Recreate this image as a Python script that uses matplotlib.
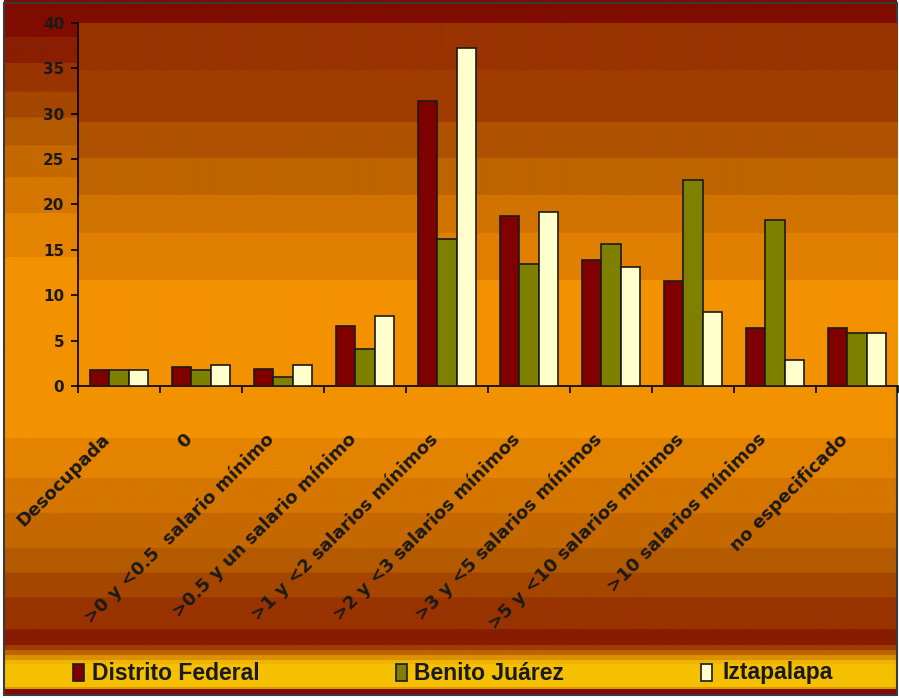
import numpy as np
import matplotlib
matplotlib.use('Agg')
import matplotlib.pyplot as plt
from matplotlib.patches import Rectangle
from matplotlib.transforms import blended_transform_factory

# datos
categorias = ['Desocupada', '0', '>0 y <0.5  salario mínimo', '>0.5 y un salario mínimo',
              '>1 y <2 salarios mínimos', '>2 y <3 salarios mínimos', '>3 y <5 salarios mínimos',
              '>5 y <10 salarios mínimos', '>10 salarios mínimos', 'no especificado']
distrito_federal = [1.8, 2.1, 1.9, 6.6, 31.4, 18.7, 13.9, 11.6, 6.4, 6.4]
benito_juarez = [1.8, 1.8, 1.0, 4.1, 16.2, 13.4, 15.6, 22.7, 18.3, 5.8]
iztapalapa = [1.8, 2.3, 2.3, 7.7, 37.3, 19.2, 13.1, 8.1, 2.9, 5.8]
series = ['Distrito Federal', 'Benito Juárez', 'Iztapalapa']
colores = ['#800000', '#808000', '#ffffcc']

W, H = 899, 698


def bandas(n, lista, y0=0):
    # columna de color por franjas (y en pixeles)
    col = np.zeros((n, 1, 3))
    for k, (ys, c) in enumerate(lista):
        ye = lista[k + 1][0] if k + 1 < len(lista) else y0 + n
        col[max(ys - y0, 0):max(ye - y0, 0), 0, :] = np.array(c) / 255
    return col


fondo = bandas(H, [(0, (128, 12, 0)), (37, (138, 30, 0)), (63, (153, 51, 0)), (92, (165, 70, 0)),
                   (118, (180, 90, 0)), (146, (198, 104, 0)), (178, (213, 118, 0)),
                   (214, (228, 131, 0)), (258, (243, 146, 0)), (440, (228, 131, 0)),
                   (480, (213, 118, 0)), (515, (198, 104, 0)), (550, (180, 90, 0)),
                   (575, (165, 70, 0)), (600, (153, 51, 0)), (632, (136, 28, 0)),
                   (648, (160, 60, 0)), (653, (190, 100, 0)), (658, (220, 145, 0)),
                   (663, (240, 180, 0)), (667, (245, 192, 0)), (690, (225, 150, 0)),
                   (692, (128, 12, 0))])

fig = plt.figure(figsize=(W / 100, H / 100), dpi=100)
fig.patch.set_facecolor('white')

bg = fig.add_axes([0, 0, 1, 1])
bg.set_xlim(0, W)
bg.set_ylim(H, 0)
bg.imshow(fondo, extent=[4, 897, 695, 0], aspect='auto', zorder=0)
bg.add_patch(Rectangle((4, 3), 893, 692, fill=False, edgecolor='#3a3a3a', lw=1.5, zorder=2))
bg.axis('off')

# leyenda
for xm, xt, nom, c in zip([73, 396, 701], [92, 414, 722], series, colores):
    bg.add_patch(Rectangle((xm, 664), 11, 17, facecolor=c, edgecolor='#1a1a1a', lw=1.2, zorder=3))
    bg.text(xt, 673, nom, ha='left', va='center', fontsize=16.5, fontweight='bold',
            family='Liberation Sans', color='#1a1a1a')

# area de trazado
ax = fig.add_axes([78 / W, 1 - 386 / H, (898 - 78) / W, (386 - 23) / H])
ax.patch.set_alpha(0)
zona = bandas(363, [(23, (153, 51, 0)), (70, (160, 60, 0)), (122, (175, 82, 0)),
                    (158, (190, 100, 0)), (195, (210, 115, 0)), (233, (225, 128, 0)),
                    (280, (243, 146, 0))], y0=23)
ax.imshow(zona, extent=[-0.5, 9.5, 0, 40], aspect='auto', zorder=0)

x = np.arange(len(categorias))
w = 0.232
for k, (vals, c) in enumerate(zip([distrito_federal, benito_juarez, iztapalapa], colores)):
    ax.bar(x + (k - 1) * w, vals, w, color=c, edgecolor='#1a1a1a', lw=1.2, zorder=3)

ax.set_xlim(-0.5, 9.5)
ax.set_ylim(0, 40)
ax.spines['top'].set_visible(False)
ax.spines['right'].set_visible(False)
ax.spines['left'].set_linewidth(1.2)
ax.spines['bottom'].set_linewidth(1.2)
ax.set_yticks(range(0, 41, 5))
ax.set_yticklabels([str(v) for v in range(0, 41, 5)], fontsize=11, fontweight='bold',
                   family='DejaVu Sans', color='#1a1a1a')
ax.tick_params(axis='y', length=5, width=1.2, pad=5)
ax.set_xticks(np.arange(-0.5, 10, 1))
ax.set_xticklabels([])
ax.tick_params(axis='x', length=5, width=1.2)

tr = blended_transform_factory(ax.transData, ax.transAxes)
for i, lab in enumerate(categorias):
    ax.text(i - 0.14, -0.14, lab, transform=tr, rotation=45, rotation_mode='anchor',
            ha='right', va='center', fontsize=13, fontweight='bold', family='DejaVu Sans',
            color='#1a1a1a')

fig.savefig('out.png', dpi=100)
